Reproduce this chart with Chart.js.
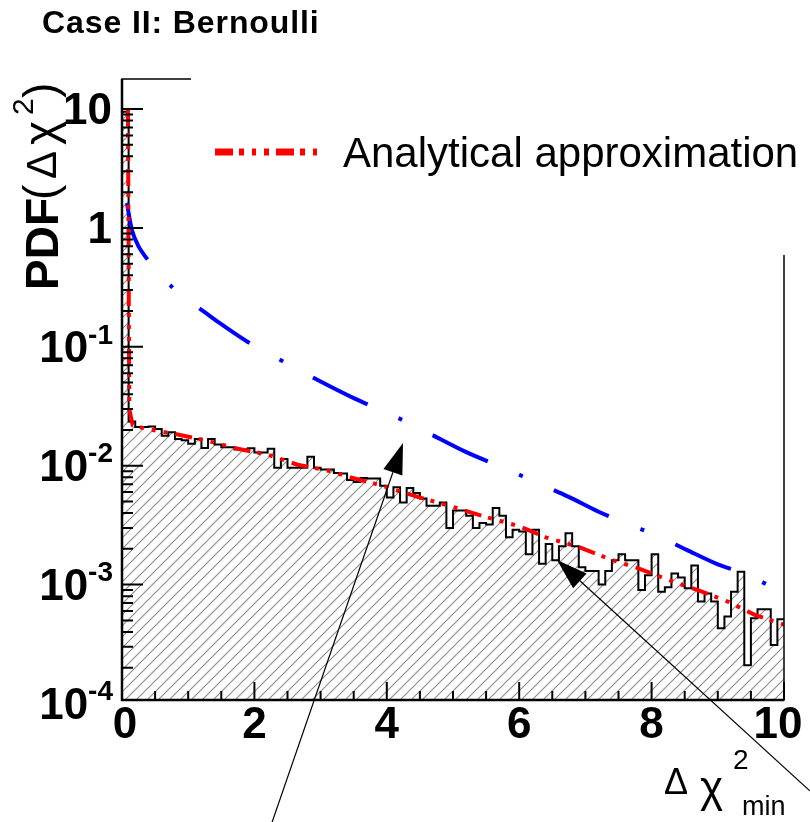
<!DOCTYPE html>
<html>
<head>
<meta charset="utf-8">
<script src="https://cdn.jsdelivr.net/npm/chart.js@4.4.1/dist/chart.umd.min.js"></script>
<style>
  html, body { margin: 0; padding: 0; background: #fff; }
  canvas { display: block; }
</style>
</head>
<body>
<canvas id="pdfChart" width="810" height="822"></canvas>
<script>
// histogram, 100 bins of 0.1 from 0 to 10
const binWidth = 0.1;
const histValues = [
  9.5, 0.0236, 0.0212, 0.0212, 0.0214, 0.0204, 0.0179, 0.0191, 0.0168, 0.0164,
  0.0153, 0.0168, 0.0141, 0.0168, 0.0151, 0.0143, 0.0143, 0.0137, 0.0137, 0.0140,
  0.0129, 0.0129, 0.0139, 0.0096, 0.0114, 0.0096, 0.0096, 0.0096, 0.0119, 0.0096,
  0.0093, 0.0093, 0.0087, 0.0086, 0.0076, 0.0073, 0.0079, 0.0078, 0.0078, 0.0068,
  0.0054, 0.0066, 0.0049, 0.0065, 0.0059, 0.0053, 0.0046, 0.0046, 0.0049, 0.0030,
  0.0042, 0.0042, 0.0038, 0.0030, 0.0033, 0.0032, 0.0044, 0.0038, 0.0025, 0.0029,
  0.0028, 0.0018, 0.0029, 0.0015, 0.0022, 0.0016, 0.0021, 0.0027, 0.0021, 0.0014,
  0.0013, 0.0013, 0.0010, 0.0013, 0.0016, 0.0018, 0.0016, 0.0016, 0.0009, 0.0012,
  0.0018, 0.00087, 0.00095, 0.00124, 0.00115, 0.00093, 0.00145, 0.00072, 0.00084, 0.00072,
  0.00043, 0.00054, 0.00087, 0.00128, 0.00021, 0.00052, 0.00062, 0.00062, 0.00031, 0.00051
];

// red: analytical approximation
const approxX = [0.09, 0.11, 0.16, 0.35, 0.8, 1.25, 1.75, 2.2, 2.65, 3.15, 3.4, 3.8, 4.0, 4.5, 5.0, 5.5, 6.0, 6.4, 6.9, 7.35, 7.8, 8.4, 8.7, 9.15, 9.55, 10];
const approxY = [10, 0.03, 0.022, 0.0205, 0.0185, 0.0164, 0.0139, 0.0124, 0.0102, 0.0090, 0.0081, 0.0071, 0.0066, 0.0054, 0.0045, 0.0037, 0.0031, 0.0025, 0.00207, 0.00165, 0.00137, 0.00102, 0.0009, 0.00072, 0.00056, 0.00046];

// blue dash-dot curve
const chiX = [0.075, 0.15, 0.25, 0.39, 0.55, 0.755, 1.0, 1.16, 1.5, 1.9, 2.5, 3.0, 3.5, 4.14, 4.6, 5.2, 5.8, 6.27, 6.74, 7.2, 7.6, 8.07, 8.53, 9.0, 9.38, 9.88, 10];
const chiY = [1.62, 0.96, 0.70, 0.538, 0.41, 0.319, 0.24, 0.212, 0.155, 0.11, 0.072, 0.051, 0.037, 0.0257, 0.0192, 0.013, 0.0094, 0.0072, 0.0055, 0.0041, 0.0033, 0.0026, 0.00196, 0.00148, 0.00125, 0.00092, 0.00085];

const xTicks = [0, 2, 4, 6, 8, 10];
const yDecades = [-4, -3, -2, -1, 0, 1];
const legendText = 'Analytical approximation';

const FONT = '"Liberation Sans", Arial, Helvetica, sans-serif';
const redDash = [17, 7, 4, 8, 4, 8, 4, 8];
const blueDash = [61, 34, 4, 34];

function hatchPattern(){
    const s = 11;
    const c = document.createElement('canvas');
    c.width = s; c.height = s;
    const g = c.getContext('2d');
    g.strokeStyle = '#8c8c8c';
    g.lineWidth = 1.1;
    g.beginPath();
    g.moveTo(-1, s + 1); g.lineTo(s + 1, -1);
    g.moveTo(-1, 1); g.lineTo(1, -1);
    g.moveTo(s - 1, s + 1); g.lineTo(s + 1, s - 1);
    g.stroke();
    return g.createPattern(c, 'repeat');
}

const histPoints = histValues.map((v, i) => ({x: i * binWidth, y: v}));
histPoints.push({x: 10, y: histValues[histValues.length - 1]});
const approxPoints = approxX.map((v, i) => ({x: v, y: approxY[i]}));
const chiPoints = chiX.map((v, i) => ({x: v, y: chiY[i]}));

// draws ROOT-like frame, ticks, labels, legend and arrows
const rootFrame = {
    id: 'rootFrame',
    afterDatasetsDraw(chart){
        const {ctx, chartArea: a} = chart;
        const xs = chart.scales.x, ys = chart.scales.y;
        ctx.save();
        ctx.strokeStyle = '#000';
        ctx.fillStyle = '#000';

        // frame
        ctx.lineWidth = 1.5;
        ctx.strokeRect(a.left, a.top, a.right - a.left, a.bottom - a.top);
        // legend box (white) hides part of the frame
        ctx.fillStyle = '#fff';
        ctx.fillRect(191, 60, 810 - 191, 255 - 60);
        ctx.fillStyle = '#000';
        // thicker axes
        ctx.lineWidth = 2.5;
        ctx.beginPath();
        ctx.moveTo(a.left, a.top); ctx.lineTo(a.left, a.bottom); ctx.lineTo(a.right, a.bottom);
        ctx.stroke();

        // x ticks
        ctx.lineWidth = 2;
        ctx.beginPath();
        for (let v = 0; v <= 10.001; v += 0.5) {
            const px = xs.getPixelForValue(v);
            const len = (Math.abs(v % 2) < 1e-6) ? 18 : 9;
            ctx.moveTo(px, a.bottom); ctx.lineTo(px, a.bottom - len);
        }
        // y ticks
        yDecades.forEach(d => {
            for (let m = 1; m <= 9; m++) {
                const val = m * Math.pow(10, d);
                if (val < ys.min || val > ys.max) continue;
                const py = ys.getPixelForValue(val);
                ctx.moveTo(a.left, py); ctx.lineTo(a.left + (m === 1 ? 21 : 11), py);
            }
        });
        ctx.stroke();

        // x labels
        ctx.font = 'bold 44px ' + FONT;
        ctx.textAlign = 'center';
        ctx.textBaseline = 'alphabetic';
        xTicks.forEach(v => {
            let px = xs.getPixelForValue(v);
            if (v === 0) px += 3;
            if (v === 10) px -= 6;
            ctx.fillText(String(v), px, 738);
        });

        // y labels
        const right = 113;
        yDecades.forEach(d => {
            const py = ys.getPixelForValue(Math.pow(10, d)) + 3;
            ctx.textBaseline = 'middle';
            if (d >= 0) {
                ctx.font = 'bold 44px ' + FONT;
                ctx.textAlign = 'right';
                ctx.fillText(d === 0 ? '1' : '10', right - 1, py);
            } else {
                ctx.font = 'bold 28px ' + FONT;
                const sup = String(d);
                const w = ctx.measureText(sup).width;
                ctx.textAlign = 'left';
                ctx.fillText(sup, right - w, py - 14);
                ctx.font = 'bold 44px ' + FONT;
                ctx.textAlign = 'right';
                ctx.fillText('10', right - w, py);
            }
        });

        // x axis title
        ctx.textAlign = 'left';
        ctx.textBaseline = 'alphabetic';
        ctx.font = '36px ' + FONT;
        ctx.fillText('\u0394', 664, 794);
        ctx.font = '44px ' + FONT;
        ctx.fillText('\u03c7', 700, 802);
        ctx.font = '28px ' + FONT;
        ctx.fillText('2', 733, 769);
        ctx.font = '27px ' + FONT;
        ctx.fillText('min', 742, 815);

        // y axis title (rotated pieces)
        const rot = (txt, font, bx, by) => {
            ctx.save();
            ctx.translate(bx, by);
            ctx.rotate(-Math.PI / 2);
            ctx.font = font;
            ctx.fillText(txt, 0, 0);
            ctx.restore();
        };
        rot('PDF', 'bold 46px ' + FONT, 58, 290);
        rot('(', '46px ' + FONT, 56, 200);
        rot('\u0394', '42px ' + FONT, 56, 179);
        rot('\u03c7', '46px ' + FONT, 56, 145);
        rot('2', '30px ' + FONT, 33, 115);
        rot(')', '46px ' + FONT, 56, 98);

        // title
        ctx.save();
        ctx.letterSpacing = '0.9px';
        ctx.font = 'bold 32px ' + FONT;
        ctx.fillText('Case II: Bernoulli', 42, 33);
        ctx.restore();

        // legend
        ctx.save();
        ctx.strokeStyle = '#ff0000';
        ctx.lineWidth = 7;
        ctx.setLineDash([18, 6, 5, 8, 4, 8, 5, 7]);
        ctx.beginPath();
        ctx.moveTo(215, 152); ctx.lineTo(321, 152);
        ctx.stroke();
        ctx.restore();
        ctx.font = '42px ' + FONT;
        ctx.fillText(legendText, 343, 167);

        // arrows (data coordinates)
        const arrow = (tx, ty, fx, fy) => {
            const x1 = xs.getPixelForValue(tx), y1 = ys.getPixelForValue(ty);
            const x0 = xs.getPixelForValue(fx), y0 = ys.getPixelForValue(fy);
            const ang = Math.atan2(y1 - y0, x1 - x0);
            const len = 31, hw = 10;
            const bx = x1 - len * Math.cos(ang), by = y1 - len * Math.sin(ang);
            ctx.lineWidth = 1.2;
            ctx.beginPath();
            ctx.moveTo(x0, y0); ctx.lineTo(bx, by);
            ctx.stroke();
            ctx.beginPath();
            ctx.moveTo(x1, y1);
            ctx.lineTo(bx + hw * Math.sin(ang), by - hw * Math.cos(ang));
            ctx.lineTo(bx - hw * Math.sin(ang), by + hw * Math.cos(ang));
            ctx.closePath();
            ctx.fill();
        };
        arrow(4.245, 0.01556, 2.266, 1.0e-5);
        arrow(6.571, 0.001614, 10.39, 1.84e-5);

        ctx.restore();
    }
};

const ctxChart = document.getElementById('pdfChart');
const pdfChart = new Chart(ctxChart, {
    type: 'line',
    data: {
        datasets: [{
            label: legendText,
            data: approxPoints,
            borderColor: '#ff0000',
            borderWidth: 4,
            borderDash: redDash,
            pointRadius: 0,
            fill: false,
            tension: 0,
        }, {
            label: 'chi2',
            data: chiPoints,
            borderColor: '#0000ff',
            borderWidth: 4,
            borderDash: blueDash,
            pointRadius: 0,
            fill: false,
            tension: 0.3,
        }, {
            label: 'histogram',
            data: histPoints,
            borderColor: '#000',
            borderWidth: 2,
            stepped: true,
            pointRadius: 0,
            fill: 'start',
            backgroundColor: hatchPattern(),
        }],
    },
    options: {
        responsive: false,
        animation: false,
        devicePixelRatio: 1,
        layout: { padding: { left: 122, right: 26, top: 79, bottom: 122 } },
        scales: {
            x: { type: 'linear', min: 0, max: 10, display: false },
            y: { type: 'logarithmic', min: 1.07e-4, max: 17.9, display: false },
        },
        plugins: {
            legend: { display: false },
            tooltip: { enabled: false },
        },
    },
    plugins: [rootFrame],
});
</script>
</body>
</html>
